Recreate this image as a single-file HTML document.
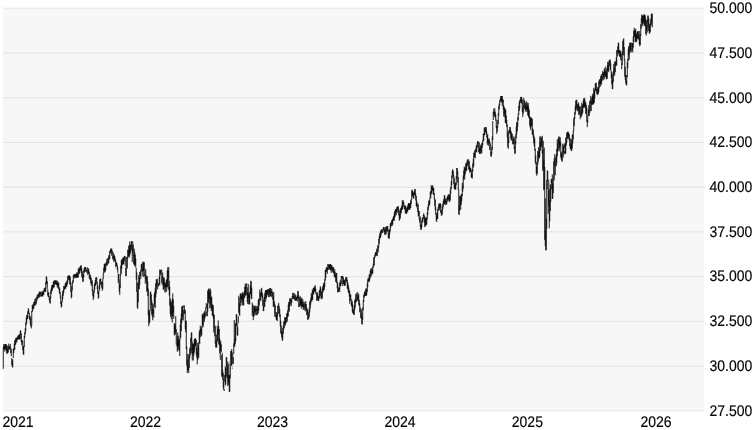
<!DOCTYPE html><html><head><meta charset="utf-8"><style>
html,body{margin:0;padding:0;background:#fff;}body{width:753px;height:430px;overflow:hidden;position:relative;font-family:"Liberation Sans",sans-serif;font-size:14px;color:#000;}
.yl{position:absolute;left:709.5px;width:44px;text-align:left;line-height:16px;height:16px;white-space:nowrap;font-size:14px;text-rendering:geometricPrecision;-webkit-text-stroke:0.15px #000;transform:scale(1,1.1);transform-origin:0 9px;}
.xl{position:absolute;top:414px;line-height:16px;height:16px;font-size:14px;text-rendering:geometricPrecision;-webkit-text-stroke:0.15px #000;transform:scale(1,1.1);transform-origin:0 9px;}
svg{position:absolute;left:0;top:0;}#t{position:absolute;left:0;top:0;width:753px;height:430px;will-change:transform;}
</style></head><body>
<svg width="753" height="430" viewBox="0 0 753 430">
<rect x="3" y="7.5" width="701" height="404" fill="#f7f7f7"/>
<path d="M3 53.02H704M3 97.74H704M3 142.46H704M3 187.18H704M3 231.90H704M3 276.62H704M3 321.34H704M3 366.06H704" stroke="#e2e2e2" stroke-width="1" fill="none"/>
<path d="M3 8.30H704M3 410.78H704" stroke="#e8e8e8" stroke-width="1" fill="none"/>
<path d="M3.25 347.1V368.8M3.75 344.2V348.9M4.25 344.1V349.4M4.75 345.9V351.6M5.25 344.1V349.3M5.75 344.1V349.3M6.25 344.2V350.9M6.75 345.6V353.6M7.25 348.9V353.6M7.75 345.7V353.2M8.25 347.3V352.4M8.75 343.6V348.9M9.25 346.2V348.7M9.75 345.9V349.7M10.25 343.9V348.6M10.75 347.8V353.2M11.25 348.8V356.1M11.75 358.1V365.0M12.25 360.8V367.0M12.75 359.2V367.6M13.25 348.9V358.0M13.75 348.3V353.1M14.25 343.6V350.0M14.75 340.2V349.9M15.25 340.1V345.0M15.75 338.0V344.3M16.25 337.8V341.8M16.75 337.5V342.5M17.25 337.3V340.2M17.75 336.2V338.7M18.25 334.9V339.1M18.75 335.3V339.7M19.25 334.4V339.5M19.75 334.0V339.1M20.25 330.4V334.3M20.75 330.6V339.3M21.25 333.4V342.2M21.75 339.8V345.2M22.25 340.2V341.8M22.75 341.0V350.2M23.25 346.4V354.3M23.75 345.9V355.1M24.25 336.0V347.0M24.75 332.1V338.0M25.25 328.1V334.4M25.75 322.4V331.4M26.25 317.6V325.1M26.75 315.1V322.6M27.25 314.7V319.0M27.75 311.4V319.1M28.25 308.2V313.7M28.75 309.5V314.0M29.25 312.8V317.8M29.75 315.9V320.0M30.25 316.3V324.1M30.75 318.3V326.5M31.25 324.4V328.4M31.75 311.0V325.7M32.25 304.7V311.9M32.75 305.6V310.8M33.25 304.1V308.6M33.75 302.1V309.0M34.25 301.8V305.3M34.75 299.2V306.2M35.25 302.3V305.1M35.75 297.8V303.2M36.25 299.5V304.5M36.75 296.7V301.5M37.25 294.7V299.0M37.75 294.9V299.4M38.25 293.8V297.4M38.75 293.6V297.6M39.25 291.7V297.5M39.75 291.7V295.5M40.25 292.7V296.7M40.75 291.7V293.6M41.25 291.8V296.3M41.75 293.9V296.7M42.25 291.5V295.9M42.75 291.8V296.5M43.25 290.2V294.8M43.75 291.8V295.1M44.25 288.1V292.1M44.75 288.3V291.3M45.25 287.4V292.1M45.75 282.0V291.3M46.25 276.2V284.5M46.75 277.2V283.6M47.25 281.1V288.9M47.75 289.3V295.6M48.25 292.5V297.0M48.75 292.3V297.2M49.25 296.4V300.4M49.75 297.8V302.9M50.25 296.5V303.7M50.75 290.6V298.3M51.25 287.8V294.1M51.75 285.3V291.2M52.25 284.8V290.9M52.75 285.1V288.8M53.25 281.7V287.1M53.75 281.3V288.1M54.25 280.3V287.0M54.75 280.8V284.1M55.25 280.3V284.0M55.75 280.3V284.4M56.25 281.3V285.0M56.75 280.3V284.9M57.25 282.8V287.6M57.75 281.1V286.0M58.25 282.9V288.1M58.75 282.5V289.4M59.25 287.3V292.6M59.75 288.5V293.9M60.25 292.2V297.7M60.75 296.8V304.3M61.25 302.1V307.6M61.75 301.1V306.8M62.25 294.2V302.0M62.75 290.9V299.3M63.25 289.9V295.7M63.75 286.1V293.1M64.25 285.6V289.9M64.75 286.9V289.5M65.25 283.4V288.7M65.75 282.7V288.5M66.25 281.4V286.1M66.75 282.0V287.1M67.25 279.9V285.0M67.75 275.9V282.4M68.25 276.4V280.1M68.75 275.2V278.8M69.25 275.3V280.2M69.75 275.9V284.0M70.25 276.8V285.2M70.75 282.4V291.8M71.25 290.2V298.4M71.75 286.0V297.1M72.25 282.6V290.4M72.75 280.3V283.7M73.25 275.5V282.4M73.75 274.2V276.7M74.25 275.0V278.4M74.75 274.2V277.1M75.25 274.2V277.8M75.75 274.2V277.8M76.25 273.5V277.4M76.75 272.4V277.8M77.25 273.4V277.5M77.75 272.5V277.8M78.25 268.7V277.3M78.75 268.7V272.6M79.25 267.1V274.2M79.75 268.9V273.2M80.25 266.5V269.9M80.75 265.6V270.9M81.25 265.2V272.6M81.75 268.3V276.6M82.25 271.3V277.9M82.75 274.9V281.7M83.25 274.5V281.8M83.75 270.0V277.4M84.25 267.7V272.7M84.75 267.2V271.3M85.25 267.2V272.0M85.75 267.2V270.0M86.25 270.1V271.5M86.75 269.6V272.9M87.25 267.2V270.4M87.75 269.8V275.1M88.25 268.1V273.4M88.75 269.3V274.1M89.25 271.8V278.3M89.75 274.5V279.2M90.25 274.7V280.4M90.75 277.6V283.2M91.25 277.7V285.8M91.75 281.7V284.6M92.25 280.3V291.4M92.75 289.4V295.7M93.25 293.2V300.1M93.75 290.7V297.8M94.25 284.9V292.7M94.75 283.1V289.8M95.25 280.1V286.0M95.75 277.6V285.3M96.25 277.8V281.5M96.75 277.2V283.8M97.25 281.8V289.4M97.75 286.0V293.8M98.25 291.7V298.7M98.75 291.0V297.8M99.25 284.4V291.3M99.75 279.1V289.2M100.25 279.5V285.1M100.75 278.3V281.7M101.25 281.9V284.2M101.75 281.6V287.7M102.25 282.1V290.8M102.75 278.7V289.1M103.25 272.8V279.1M103.75 267.7V273.4M104.25 263.6V271.1M104.75 264.1V272.7M105.25 263.3V271.8M105.75 264.5V269.9M106.25 262.2V265.1M106.75 259.1V265.8M107.25 262.0V265.5M107.75 258.0V262.5M108.25 258.1V263.6M108.75 255.4V263.3M109.25 255.1V259.4M109.75 251.1V259.1M110.25 250.2V253.6M110.75 248.6V252.3M111.25 248.6V252.3M111.75 248.6V255.7M112.25 250.7V255.7M112.75 255.9V259.4M113.25 252.4V258.7M113.75 255.9V261.8M114.25 254.6V260.6M114.75 256.0V260.6M115.25 258.4V262.6M115.75 260.2V267.3M116.25 262.5V266.1M116.75 262.6V266.0M117.25 264.8V269.6M117.75 267.2V272.8M118.25 273.8V283.2M118.75 273.6V280.2M119.25 279.5V291.8M119.75 284.2V294.9M120.25 274.0V287.9M120.75 265.6V275.2M121.25 260.2V273.5M121.75 259.3V268.9M122.25 260.1V265.0M122.75 257.8V264.6M123.25 257.7V264.0M123.75 257.3V264.4M124.25 255.9V258.7M124.75 256.4V261.3M125.25 256.7V265.8M125.75 267.6V276.1M126.25 265.5V276.1M126.75 256.7V266.6M127.25 257.3V268.6M127.75 249.6V258.5M128.25 249.9V256.5M128.75 245.9V256.5M129.25 244.9V257.6M129.75 241.4V255.6M130.25 245.0V253.8M130.75 244.7V252.0M131.25 241.3V249.9M131.75 241.3V246.9M132.25 246.8V262.1M132.75 241.3V252.4M133.25 244.9V255.8M133.75 255.0V264.3M134.25 248.7V264.6M134.75 252.2V266.2M135.25 254.5V265.1M135.75 258.7V267.8M136.25 268.1V279.6M136.75 272.3V292.0M137.25 282.3V307.6M137.75 291.8V308.9M138.25 283.2V302.4M138.75 275.1V289.6M139.25 277.4V289.2M139.75 272.0V284.7M140.25 271.5V275.6M140.75 269.5V279.0M141.25 264.2V269.4M141.75 263.7V271.9M142.25 268.7V276.3M142.75 261.7V271.6M143.25 262.9V271.0M143.75 261.7V277.1M144.25 262.3V270.0M144.75 270.3V276.2M145.25 274.3V283.7M145.75 268.9V278.9M146.25 275.6V281.5M146.75 277.1V291.8M147.25 276.2V290.6M147.75 281.4V296.1M148.25 288.5V315.5M148.75 309.6V326.2M149.25 311.7V323.5M149.75 310.4V322.2M150.25 291.7V311.1M150.75 291.7V301.1M151.25 294.2V305.3M151.75 300.5V314.6M152.25 303.1V316.6M152.75 309.4V320.3M153.25 304.4V313.8M153.75 308.7V317.7M154.25 294.1V307.3M154.75 291.9V304.5M155.25 287.8V308.1M155.75 283.2V297.3M156.25 279.1V293.7M156.75 280.2V287.6M157.25 278.7V283.0M157.75 282.7V289.4M158.25 283.1V286.5M158.75 284.0V285.4M159.25 276.7V284.2M159.75 269.6V285.4M160.25 269.8V275.5M160.75 270.5V273.7M161.25 269.5V270.5M161.75 269.9V283.1M162.25 276.2V285.3M162.75 272.6V278.6M163.25 277.4V289.9M163.75 278.1V289.0M164.25 277.6V287.2M164.75 282.0V292.4M165.25 282.9V287.3M165.75 284.8V292.4M166.25 280.1V287.3M166.75 279.1V291.4M167.25 270.3V286.5M167.75 267.2V287.4M168.25 270.4V278.7M168.75 267.0V289.9M169.25 280.9V295.4M169.75 286.7V305.7M170.25 298.5V314.0M170.75 301.9V316.9M171.25 305.3V319.2M171.75 301.1V315.5M172.25 298.7V322.5M172.75 293.4V316.4M173.25 299.3V312.6M173.75 306.0V318.9M174.25 323.0V335.5M174.75 324.1V334.0M175.25 324.9V334.7M175.75 316.1V332.4M176.25 329.1V344.6M176.75 344.5V345.8M177.25 335.9V351.8M177.75 332.4V348.3M178.25 340.0V350.5M178.75 335.7V346.0M179.25 338.9V350.7M179.75 338.9V356.0M180.25 324.4V339.1M180.75 318.9V337.5M181.25 313.8V331.1M181.75 306.7V323.2M182.25 305.7V319.8M182.75 306.4V316.8M183.25 309.8V320.5M183.75 305.4V307.4M184.25 305.4V313.9M184.75 309.1V313.7M185.25 310.3V329.2M185.75 320.5V332.2M186.25 320.9V349.3M186.75 346.6V365.4M187.25 359.6V373.1M187.75 353.8V370.0M188.25 365.1V370.5M188.75 354.3V373.1M189.25 356.5V367.9M189.75 348.5V358.2M190.25 347.2V355.3M190.75 338.0V351.1M191.25 332.5V353.4M191.75 332.5V342.3M192.25 341.6V360.5M192.75 343.8V354.5M193.25 344.4V360.5M193.75 343.4V356.3M194.25 339.2V352.7M194.75 338.5V349.7M195.25 338.5V346.4M195.75 338.6V345.7M196.25 340.0V354.5M196.75 348.0V357.6M197.25 352.5V364.4M197.75 342.7V360.0M198.25 345.8V355.9M198.75 342.3V358.2M199.25 331.7V342.7M199.75 330.0V344.2M200.25 325.5V337.1M200.75 327.7V332.8M201.25 329.2V336.4M201.75 326.0V335.1M202.25 313.8V325.3M202.75 314.7V327.6M203.25 315.4V326.3M203.75 312.7V317.9M204.25 312.7V322.1M204.75 310.7V319.3M205.25 311.9V316.8M205.75 307.4V311.6M206.25 303.1V308.5M206.75 311.6V316.3M207.25 304.0V316.1M207.75 290.6V311.8M208.25 289.8V303.5M208.75 288.6V301.4M209.25 288.6V298.7M209.75 292.2V308.5M210.25 288.6V303.7M210.75 290.4V307.5M211.25 297.2V311.1M211.75 296.6V309.0M212.25 304.8V315.6M212.75 304.4V316.0M213.25 305.5V318.5M213.75 314.0V332.4M214.25 315.0V327.9M214.75 327.2V336.1M215.25 325.7V343.7M215.75 341.3V347.5M216.25 334.4V347.5M216.75 340.6V347.5M217.25 325.8V341.6M217.75 329.2V341.0M218.25 320.4V334.8M218.75 326.2V344.2M219.25 329.0V345.2M219.75 338.4V353.4M220.25 342.7V359.9M220.75 340.6V350.8M221.25 344.4V352.2M221.75 355.0V376.8M222.25 352.8V376.0M222.75 370.5V380.0M223.25 373.0V388.1M223.75 380.0V390.2M224.25 389.4V390.9M224.75 375.0V381.6M225.25 366.5V385.6M225.75 368.1V384.3M226.25 357.1V376.9M226.75 357.1V366.2M227.25 365.8V378.3M227.75 361.6V386.2M228.25 374.9V382.5M228.75 363.7V385.0M229.25 375.6V391.9M229.75 374.6V391.9M230.25 361.0V378.3M230.75 351.1V360.9M231.25 351.0V365.6M231.75 349.0V366.1M232.25 367.6V368.6M232.75 352.5V363.9M233.25 357.1V363.9M233.75 343.3V353.9M234.25 320.1V346.1M234.75 338.9V346.9M235.25 323.7V343.9M235.75 322.9V341.2M236.25 314.2V325.8M236.75 314.3V325.9M237.25 324.3V335.3M237.75 327.2V335.7M238.25 316.2V323.5M238.75 295.7V312.7M239.25 303.2V315.3M239.75 297.9V315.7M240.25 293.5V299.0M240.75 293.5V306.0M241.25 293.5V302.7M241.75 295.4V299.4M242.25 293.6V305.4M242.75 291.9V300.6M243.25 293.3V305.4M243.75 294.7V305.4M244.25 291.3V298.0M244.75 286.5V297.6M245.25 283.6V294.7M245.75 286.4V295.9M246.25 283.6V294.9M246.75 283.6V285.7M247.25 287.2V302.1M247.75 292.1V304.1M248.25 284.0V298.0M248.75 293.5V304.3M249.25 294.6V304.3M249.75 291.8V304.3M250.25 285.7V294.2M250.75 280.7V294.4M251.25 281.4V298.4M251.75 287.7V299.1M252.25 302.5V316.0M252.75 304.7V312.8M253.25 311.6V320.2M253.75 305.5V316.9M254.25 307.4V315.6M254.75 305.8V312.4M255.25 305.8V312.6M255.75 308.6V315.2M256.25 305.8V311.0M256.75 309.1V315.1M257.25 307.6V315.1M257.75 305.9V310.4M258.25 300.0V313.6M258.75 298.8V310.9M259.25 297.6V305.4M259.75 289.7V297.2M260.25 293.6V300.3M260.75 292.0V301.2M261.25 288.8V296.6M261.75 287.8V295.0M262.25 292.5V298.7M262.75 294.5V305.8M263.25 299.5V311.1M263.75 305.9V311.1M264.25 297.0V306.4M264.75 293.3V307.1M265.25 291.0V298.7M265.75 290.0V301.6M266.25 289.9V298.7M266.75 289.9V296.9M267.25 289.9V294.5M267.75 289.2V294.5M268.25 288.9V295.5M268.75 290.9V297.1M269.25 288.9V297.1M269.75 288.2V292.3M270.25 287.9V296.1M270.75 288.3V296.1M271.25 291.1V297.3M271.75 288.9V292.9M272.25 291.4V296.1M272.75 292.8V299.7M273.25 296.1V307.0M273.75 291.9V304.8M274.25 301.1V307.0M274.75 303.8V316.8M275.25 305.4V313.2M275.75 312.1V317.2M276.25 314.8V319.8M276.75 312.0V320.3M277.25 314.0V321.1M277.75 305.8V315.7M278.25 305.1V313.6M278.75 302.9V308.1M279.25 306.6V313.9M279.75 309.2V317.2M280.25 314.3V326.2M280.75 320.6V333.3M281.25 325.7V334.3M281.75 331.2V337.8M282.25 332.9V341.0M282.75 328.2V339.8M283.25 325.6V333.8M283.75 321.4V329.6M284.25 321.6V327.9M284.75 317.2V324.4M285.25 317.6V325.8M285.75 317.2V323.5M286.25 317.4V322.6M286.75 313.5V319.0M287.25 312.8V321.7M287.75 309.9V317.0M288.25 304.7V316.3M288.75 302.1V310.4M289.25 301.7V311.8M289.75 298.2V306.5M290.25 299.1V304.7M290.75 298.4V301.7M291.25 298.4V306.1M291.75 299.2V302.9M292.25 296.1V298.9M292.75 292.9V298.8M293.25 292.9V297.8M293.75 295.9V299.0M294.25 293.2V299.5M294.75 297.9V300.0M295.25 294.4V301.0M295.75 295.4V299.4M296.25 297.2V300.8M296.75 296.9V300.0M297.25 295.4V301.5M297.75 290.8V298.1M298.25 291.4V299.2M298.75 295.2V307.0M299.25 304.2V307.0M299.75 297.1V305.5M300.25 296.2V304.3M300.75 298.9V306.0M301.25 298.8V308.7M301.75 297.5V306.2M302.25 301.6V306.9M302.75 299.0V307.2M303.25 304.0V309.9M303.75 301.4V307.7M304.25 305.2V310.0M304.75 302.2V305.7M305.25 304.0V311.4M305.75 301.1V308.5M306.25 304.0V310.4M306.75 307.5V314.9M307.25 309.8V315.5M307.75 309.1V319.9M308.25 315.8V319.2M308.75 311.8V319.1M309.25 308.1V316.7M309.75 301.6V312.4M310.25 300.5V308.3M310.75 298.3V304.6M311.25 293.1V300.7M311.75 294.8V301.9M312.25 289.5V300.1M312.75 290.8V299.6M313.25 288.0V293.9M313.75 287.9V294.4M314.25 286.3V292.0M314.75 287.1V291.9M315.25 285.1V291.1M315.75 288.6V293.5M316.25 292.5V294.5M316.75 294.0V300.9M317.25 292.1V300.6M317.75 294.3V299.3M318.25 296.2V300.9M318.75 296.5V300.9M319.25 290.5V297.1M319.75 289.7V298.7M320.25 286.1V293.2M320.75 287.5V296.5M321.25 291.8V299.3M321.75 291.7V298.0M322.25 289.1V298.7M322.75 286.5V292.7M323.25 285.0V291.6M323.75 283.0V290.0M324.25 282.5V289.9M324.75 279.1V287.2M325.25 270.0V280.6M325.75 269.6V278.3M326.25 267.2V272.2M326.75 267.5V271.3M327.25 268.0V273.9M327.75 264.2V270.2M328.25 264.1V267.0M328.75 265.4V269.6M329.25 264.9V269.6M329.75 264.1V269.2M330.25 264.1V269.5M330.75 264.1V270.7M331.25 265.2V272.9M331.75 265.0V269.2M332.25 266.6V270.7M332.75 267.1V271.9M333.25 267.2V273.2M333.75 267.6V273.1M334.25 271.2V276.6M334.75 269.3V277.5M335.25 272.3V277.4M335.75 275.1V282.0M336.25 273.0V281.5M336.75 272.9V283.1M337.25 281.5V288.4M337.75 283.2V292.5M338.25 288.7V292.0M338.75 287.3V291.8M339.25 287.5V289.9M339.75 282.5V292.1M340.25 279.7V286.4M340.75 281.9V286.2M341.25 276.0V284.2M341.75 276.0V278.7M342.25 276.0V278.2M342.75 276.0V286.0M343.25 277.2V284.0M343.75 279.5V283.5M344.25 279.9V286.0M344.75 280.8V286.0M345.25 279.2V285.2M345.75 277.5V281.4M346.25 277.0V280.5M346.75 277.0V282.3M347.25 279.5V288.6M347.75 282.1V289.4M348.25 284.7V292.3M348.75 287.4V293.1M349.25 289.8V296.6M349.75 291.4V303.7M350.25 295.0V300.9M350.75 294.3V300.7M351.25 301.6V305.5M351.75 299.2V306.7M352.25 301.4V311.5M352.75 304.3V313.1M353.25 309.1V313.7M353.75 310.4V314.9M354.25 305.8V314.9M354.75 300.1V310.0M355.25 298.7V307.4M355.75 293.9V303.1M356.25 296.0V302.0M356.75 292.7V296.0M357.25 295.0V301.1M357.75 292.1V299.9M358.25 295.7V300.7M358.75 293.9V304.9M359.25 299.8V306.2M359.75 303.2V312.4M360.25 307.4V311.5M360.75 311.1V318.3M361.25 309.0V317.8M361.75 313.4V323.9M362.25 317.0V324.7M362.75 307.5V319.6M363.25 300.0V310.3M363.75 295.0V302.1M364.25 293.0V297.5M364.75 291.1V296.3M365.25 291.8V295.6M365.75 288.7V295.9M366.25 288.4V295.9M366.75 288.9V295.1M367.25 283.1V291.9M367.75 279.3V287.3M368.25 277.5V282.2M368.75 278.4V281.5M369.25 274.0V281.8M369.75 275.4V280.4M370.25 270.7V277.7M370.75 269.1V277.2M371.25 268.1V272.9M371.75 270.8V275.6M372.25 268.4V273.9M372.75 266.3V273.5M373.25 263.7V267.8M373.75 257.3V266.2M374.25 257.0V265.3M374.75 255.0V258.1M375.25 252.4V256.7M375.75 252.4V255.4M376.25 251.7V256.0M376.75 248.7V254.6M377.25 249.1V256.2M377.75 245.1V249.8M378.25 246.5V252.3M378.75 239.0V247.6M379.25 235.9V244.0M379.75 233.6V239.4M380.25 231.7V238.0M380.75 230.6V237.2M381.25 229.9V234.5M381.75 229.2V231.7M382.25 229.3V232.8M382.75 231.0V232.8M383.25 227.2V229.9M383.75 227.2V231.2M384.25 227.2V232.2M384.75 229.5V234.8M385.25 229.5V234.8M385.75 226.8V232.5M386.25 227.2V234.3M386.75 226.2V230.7M387.25 226.2V230.6M387.75 226.2V231.8M388.25 229.5V237.9M388.75 233.7V238.4M389.25 230.4V238.8M389.75 228.9V234.4M390.25 223.4V231.4M390.75 222.9V227.8M391.25 221.9V226.0M391.75 220.1V223.6M392.25 219.6V225.9M392.75 218.5V224.5M393.25 216.8V220.7M393.75 215.8V220.6M394.25 213.0V220.6M394.75 211.1V217.5M395.25 209.2V216.4M395.75 209.2V213.0M396.25 209.2V215.2M396.75 207.2V212.0M397.25 206.9V212.8M397.75 206.3V209.2M398.25 206.2V211.6M398.75 208.7V215.5M399.25 211.0V220.8M399.75 213.9V219.4M400.25 209.4V218.5M400.75 207.9V214.3M401.25 207.4V212.9M401.75 205.6V210.1M402.25 200.2V210.0M402.75 202.2V208.4M403.25 200.2V204.3M403.75 202.1V206.6M404.25 205.0V208.8M404.75 207.1V209.6M405.25 205.4V213.6M405.75 206.0V212.3M406.25 209.8V213.8M406.75 207.8V213.8M407.25 207.0V212.1M407.75 205.3V211.6M408.25 203.3V210.0M408.75 203.2V208.9M409.25 203.2V209.8M409.75 203.3V209.8M410.25 202.7V208.4M410.75 200.2V208.0M411.25 199.1V204.0M411.75 190.4V199.5M412.25 189.7V196.5M412.75 191.2V195.9M413.25 192.5V198.3M413.75 192.6V198.7M414.25 191.3V195.2M414.75 189.1V194.5M415.25 189.1V196.5M415.75 193.7V200.5M416.25 196.0V206.2M416.75 200.6V206.9M417.25 202.9V208.6M417.75 208.0V212.0M418.25 204.2V216.5M418.75 211.1V215.7M419.25 211.1V219.9M419.75 218.2V222.6M420.25 216.5V226.8M420.75 225.1V229.8M421.25 223.8V229.6M421.75 220.4V227.8M422.25 217.9V223.1M422.75 217.2V221.4M423.25 215.0V219.2M423.75 213.2V216.1M424.25 215.2V222.3M424.75 216.5V226.8M425.25 218.7V226.8M425.75 217.4V224.5M426.25 218.6V225.3M426.75 217.2V224.5M427.25 212.2V219.6M427.75 207.1V215.1M428.25 204.5V210.3M428.75 200.9V207.2M429.25 200.0V205.4M429.75 198.0V204.3M430.25 191.7V198.1M430.75 191.0V198.3M431.25 185.1V192.9M431.75 186.6V194.4M432.25 186.0V191.1M432.75 185.1V190.6M433.25 187.6V194.4M433.75 188.1V194.8M434.25 193.1V199.3M434.75 198.2V206.1M435.25 199.7V210.3M435.75 206.7V214.8M436.25 213.3V220.8M436.75 214.8V222.0M437.25 212.2V218.7M437.75 208.9V219.0M438.25 207.1V210.9M438.75 204.1V209.3M439.25 203.2V207.6M439.75 205.0V210.5M440.25 203.2V207.9M440.75 203.8V212.9M441.25 210.0V215.8M441.75 209.7V213.6M442.25 206.5V215.2M442.75 203.7V209.5M443.25 201.0V207.2M443.75 199.2V203.8M444.25 195.4V203.8M444.75 195.2V204.6M445.25 198.3V204.8M445.75 199.9V202.6M446.25 201.0V204.8M446.75 198.2V204.2M447.25 196.4V200.0M447.75 195.9V201.8M448.25 194.2V199.2M448.75 195.7V200.3M449.25 194.3V201.8M449.75 194.3V201.8M450.25 189.6V200.3M450.75 186.8V193.9M451.25 181.1V189.0M451.75 175.3V185.3M452.25 170.6V178.2M452.75 169.1V174.6M453.25 171.0V176.9M453.75 175.1V183.9M454.25 177.9V188.7M454.75 184.2V189.5M455.25 183.0V189.3M455.75 182.2V189.6M456.25 176.0V185.1M456.75 168.0V178.8M457.25 168.0V175.2M457.75 171.4V182.6M458.25 176.9V189.8M458.75 189.1V214.2M459.25 205.1V215.1M459.75 196.0V210.4M460.25 196.5V204.9M460.75 195.5V209.8M461.25 194.2V204.7M461.75 193.9V201.2M462.25 182.7V196.1M462.75 186.2V191.7M463.25 175.6V188.6M463.75 170.4V179.9M464.25 166.5V176.5M464.75 168.3V179.6M465.25 167.5V174.2M465.75 163.9V171.6M466.25 162.3V170.6M466.75 163.0V170.6M467.25 160.1V166.1M467.75 159.0V163.8M468.25 162.1V164.7M468.75 159.5V169.6M469.25 161.2V169.8M469.75 165.9V172.7M470.25 167.9V171.4M470.75 167.8V172.0M471.25 170.1V177.3M471.75 173.2V177.9M472.25 169.1V178.5M472.75 163.4V171.7M473.25 159.0V167.7M473.75 152.7V166.2M474.25 153.0V157.7M474.75 149.9V156.6M475.25 151.0V158.3M475.75 148.4V151.6M476.25 145.9V152.1M476.75 144.7V152.4M477.25 142.5V147.8M477.75 141.1V144.4M478.25 141.4V146.6M478.75 145.8V152.0M479.25 142.3V153.5M479.75 148.6V153.9M480.25 146.8V153.9M480.75 144.7V150.7M481.25 145.5V153.4M481.75 143.2V153.3M482.25 142.6V147.8M482.75 140.1V145.2M483.25 133.6V141.3M483.75 133.5V140.7M484.25 127.6V135.3M484.75 127.6V135.1M485.25 127.0V132.0M485.75 129.0V132.3M486.25 127.0V134.3M486.75 131.4V137.6M487.25 135.5V144.6M487.75 134.1V142.9M488.25 140.0V146.0M488.75 138.4V143.7M489.25 138.9V143.7M489.75 141.3V150.0M490.25 143.4V149.9M490.75 150.2V156.2M491.25 152.0V156.9M491.75 146.7V154.4M492.25 136.3V150.1M492.75 121.1V140.2M493.25 111.9V120.0M493.75 108.7V114.3M494.25 111.8V116.3M494.75 108.0V116.5M495.25 111.6V117.8M495.75 114.5V120.8M496.25 119.5V128.2M496.75 126.1V133.9M497.25 125.7V131.7M497.75 120.1V127.5M498.25 113.4V124.0M498.75 105.7V115.8M499.25 103.6V109.5M499.75 100.1V105.5M500.25 98.6V101.7M500.75 96.0V100.6M501.25 96.0V102.7M501.75 96.0V101.0M502.25 96.0V106.1M502.75 99.0V102.6M503.25 99.8V109.4M503.75 105.1V116.6M504.25 107.3V113.7M504.75 107.7V117.3M505.25 109.6V122.7M505.75 109.6V123.1M506.25 115.6V124.0M506.75 120.2V127.0M507.25 124.4V137.5M507.75 132.2V147.2M508.25 137.3V149.0M508.75 130.6V143.1M509.25 129.8V132.9M509.75 127.0V133.4M510.25 127.0V133.9M510.75 130.1V138.3M511.25 131.9V140.8M511.75 133.6V139.5M512.25 133.9V140.1M512.75 139.6V144.2M513.25 139.0V144.5M513.75 136.3V143.6M514.25 137.5V149.1M514.75 146.2V153.6M515.25 140.6V153.8M515.75 134.2V144.4M516.25 126.3V138.4M516.75 122.0V134.3M517.25 122.5V131.3M517.75 117.1V126.7M518.25 113.5V120.6M518.75 106.0V114.7M519.25 101.8V111.0M519.75 100.3V108.5M520.25 99.2V102.8M520.75 96.9V101.6M521.25 96.9V103.1M521.75 97.1V103.7M522.25 99.5V111.8M522.75 108.2V117.1M523.25 104.7V113.7M523.75 97.9V108.6M524.25 99.9V104.9M524.75 102.3V109.0M525.25 104.9V111.6M525.75 102.8V110.0M526.25 100.9V109.4M526.75 106.2V112.1M527.25 102.5V110.3M527.75 104.9V115.3M528.25 102.9V116.1M528.75 107.4V117.7M529.25 110.1V117.9M529.75 116.2V125.7M530.25 117.4V128.2M530.75 117.2V130.2M531.25 117.9V126.6M531.75 117.9V126.0M532.25 119.1V134.9M532.75 128.4V135.0M533.25 129.9V138.1M533.75 134.6V143.4M534.25 136.7V146.5M534.75 138.7V150.5M535.25 148.6V162.5M535.75 155.5V164.2M536.25 162.0V173.8M536.75 166.3V175.7M537.25 162.3V173.8M537.75 150.9V164.8M538.25 151.9V162.0M538.75 147.1V157.8M539.25 147.8V158.7M539.75 136.5V156.9M540.25 142.2V147.8M540.75 136.2V150.8M541.25 138.1V146.4M541.75 137.3V146.8M542.25 135.8V153.3M542.75 150.0V171.0M543.25 140.8V169.0M543.75 159.7V190.3M544.25 147.6V189.3M544.75 166.8V239.9M545.25 198.4V246.0M545.75 230.4V250.3M546.25 218.3V250.3M546.75 179.8V229.3M547.25 170.6V189.5M547.75 170.6V180.6M548.25 190.7V213.7M548.75 179.7V205.7M549.25 188.9V228.2M549.75 200.4V221.4M550.25 183.9V211.0M550.75 185.3V201.9M551.25 178.9V183.4M551.75 179.0V189.3M552.25 174.4V199.0M552.75 183.6V198.9M553.25 175.8V193.2M553.75 161.5V175.7M554.25 158.2V180.3M554.75 154.1V165.3M555.25 164.0V175.3M555.75 156.8V165.4M556.25 154.1V166.4M556.75 148.9V163.3M557.25 139.4V156.5M557.75 143.7V152.2M558.25 138.2V149.9M558.75 136.6V144.1M559.25 136.6V151.3M559.75 140.5V148.1M560.25 137.2V146.2M560.75 142.4V157.3M561.25 151.6V159.6M561.75 153.4V160.9M562.25 154.2V161.8M562.75 143.8V154.8M563.25 146.9V157.5M563.75 144.9V152.9M564.25 143.4V148.6M564.75 150.7V154.3M565.25 143.1V154.0M565.75 137.4V153.3M566.25 139.2V145.6M566.75 132.8V143.0M567.25 131.9V138.9M567.75 131.8V138.2M568.25 131.8V139.0M568.75 133.1V137.0M569.25 134.1V141.0M569.75 137.6V146.3M570.25 143.8V149.2M570.75 138.7V149.3M571.25 143.2V151.2M571.75 139.5V150.7M572.25 134.9V148.5M572.75 134.2V143.4M573.25 130.6V139.4M573.75 118.4V131.4M574.25 116.7V126.0M574.75 112.1V119.1M575.25 106.0V114.7M575.75 100.7V111.4M576.25 99.8V109.3M576.75 99.8V107.2M577.25 105.7V110.8M577.75 104.0V111.2M578.25 102.3V108.9M578.75 103.6V114.7M579.25 106.3V115.0M579.75 106.5V113.8M580.25 114.6V119.2M580.75 106.5V116.7M581.25 110.9V117.2M581.75 102.8V115.6M582.25 105.4V114.3M582.75 104.2V112.7M583.25 100.3V107.3M583.75 98.2V108.0M584.25 99.3V107.6M584.75 97.8V106.5M585.25 102.9V108.1M585.75 101.7V114.2M586.25 104.7V113.4M586.75 107.4V121.8M587.25 120.4V127.2M587.75 114.9V122.7M588.25 109.2V115.1M588.75 105.0V115.7M589.25 111.3V116.1M589.75 101.3V112.7M590.25 100.0V111.1M590.75 95.8V103.6M591.25 101.6V111.1M591.75 97.7V104.5M592.25 95.9V104.8M592.75 93.7V104.4M593.25 94.7V104.5M593.75 87.8V103.6M594.25 89.1V102.8M594.75 91.0V98.5M595.25 83.8V91.2M595.75 82.8V90.5M596.25 82.8V90.6M596.75 89.2V93.7M597.25 89.1V95.2M597.75 86.9V93.8M598.25 88.0V94.3M598.75 81.4V92.2M599.25 80.1V88.3M599.75 79.1V83.8M600.25 78.8V86.9M600.75 75.8V84.2M601.25 75.8V85.0M601.75 74.0V82.5M602.25 73.7V80.5M602.75 70.9V74.7M603.25 72.1V80.3M603.75 72.4V77.9M604.25 68.4V79.3M604.75 69.7V75.3M605.25 66.7V76.8M605.75 71.7V76.6M606.25 71.2V79.3M606.75 68.4V79.3M607.25 65.7V78.4M607.75 61.8V70.5M608.25 61.7V70.8M608.75 65.2V72.2M609.25 60.1V66.2M609.75 59.7V65.2M610.25 59.7V69.5M610.75 63.4V70.7M611.25 70.6V78.3M611.75 72.4V84.4M612.25 79.4V89.0M612.75 74.4V89.2M613.25 71.6V82.2M613.75 63.9V76.3M614.25 68.3V73.0M614.75 61.5V75.4M615.25 61.9V72.0M615.75 61.3V66.1M616.25 57.4V64.7M616.75 50.1V65.8M617.25 50.4V56.6M617.75 46.3V52.1M618.25 42.7V54.3M618.75 42.7V53.0M619.25 50.7V56.2M619.75 49.8V56.7M620.25 50.7V56.9M620.75 51.8V59.9M621.25 53.9V61.6M621.75 62.3V69.3M622.25 50.7V65.0M622.75 41.1V54.9M623.25 39.3V49.8M623.75 38.3V55.5M624.25 47.1V60.5M624.75 59.5V76.6M625.25 66.8V79.8M625.75 74.9V83.5M626.25 80.3V85.3M626.75 75.0V85.3M627.25 61.8V77.2M627.75 58.7V68.3M628.25 48.9V60.8M628.75 46.1V55.4M629.25 46.3V59.8M629.75 42.8V50.7M630.25 42.7V52.8M630.75 42.7V50.4M631.25 42.7V47.6M631.75 47.7V52.3M632.25 43.0V49.8M632.75 43.3V52.3M633.25 36.5V47.5M633.75 30.5V41.9M634.25 27.7V36.4M634.75 30.7V37.3M635.25 29.9V42.3M635.75 28.7V41.4M636.25 33.2V42.3M636.75 35.1V41.0M637.25 31.7V38.8M637.75 31.1V38.9M638.25 31.4V37.2M638.75 35.0V39.8M639.25 30.9V44.3M639.75 37.7V46.3M640.25 34.0V45.1M640.75 24.1V36.3M641.25 18.4V28.6M641.75 14.6V21.7M642.25 15.2V24.3M642.75 16.1V26.2M643.25 16.0V23.6M643.75 14.6V22.2M644.25 14.6V24.7M644.75 14.6V26.1M645.25 15.6V26.2M645.75 18.4V34.0M646.25 25.3V35.6M646.75 20.0V30.0M647.25 20.5V32.6M647.75 15.6V22.4M648.25 15.6V27.3M648.75 17.9V31.0M649.25 26.0V33.4M649.75 24.0V33.7M650.25 22.4V32.1M650.75 19.0V26.3M651.25 14.4V22.3M651.75 13.6V24.8M652.25 13.6V27.4" stroke="#000" stroke-width="0.88" fill="none"/>
</svg><div id="t">
<div class="yl" style="top:0px">50.000</div>
<div class="yl" style="top:45px">47.500</div>
<div class="yl" style="top:90px">45.000</div>
<div class="yl" style="top:134px">42.500</div>
<div class="yl" style="top:179px">40.000</div>
<div class="yl" style="top:224px">37.500</div>
<div class="yl" style="top:268px">35.000</div>
<div class="yl" style="top:313px">32.500</div>
<div class="yl" style="top:358px">30.000</div>
<div class="yl" style="top:403px">27.500</div>
<div class="xl" style="left:2.4px">2021</div>
<div class="xl" style="left:129.9px">2022</div>
<div class="xl" style="left:256.9px">2023</div>
<div class="xl" style="left:384.4px">2024</div>
<div class="xl" style="left:511.8px">2025</div>
<div class="xl" style="left:640.4px">2026</div>
</div></body></html>
